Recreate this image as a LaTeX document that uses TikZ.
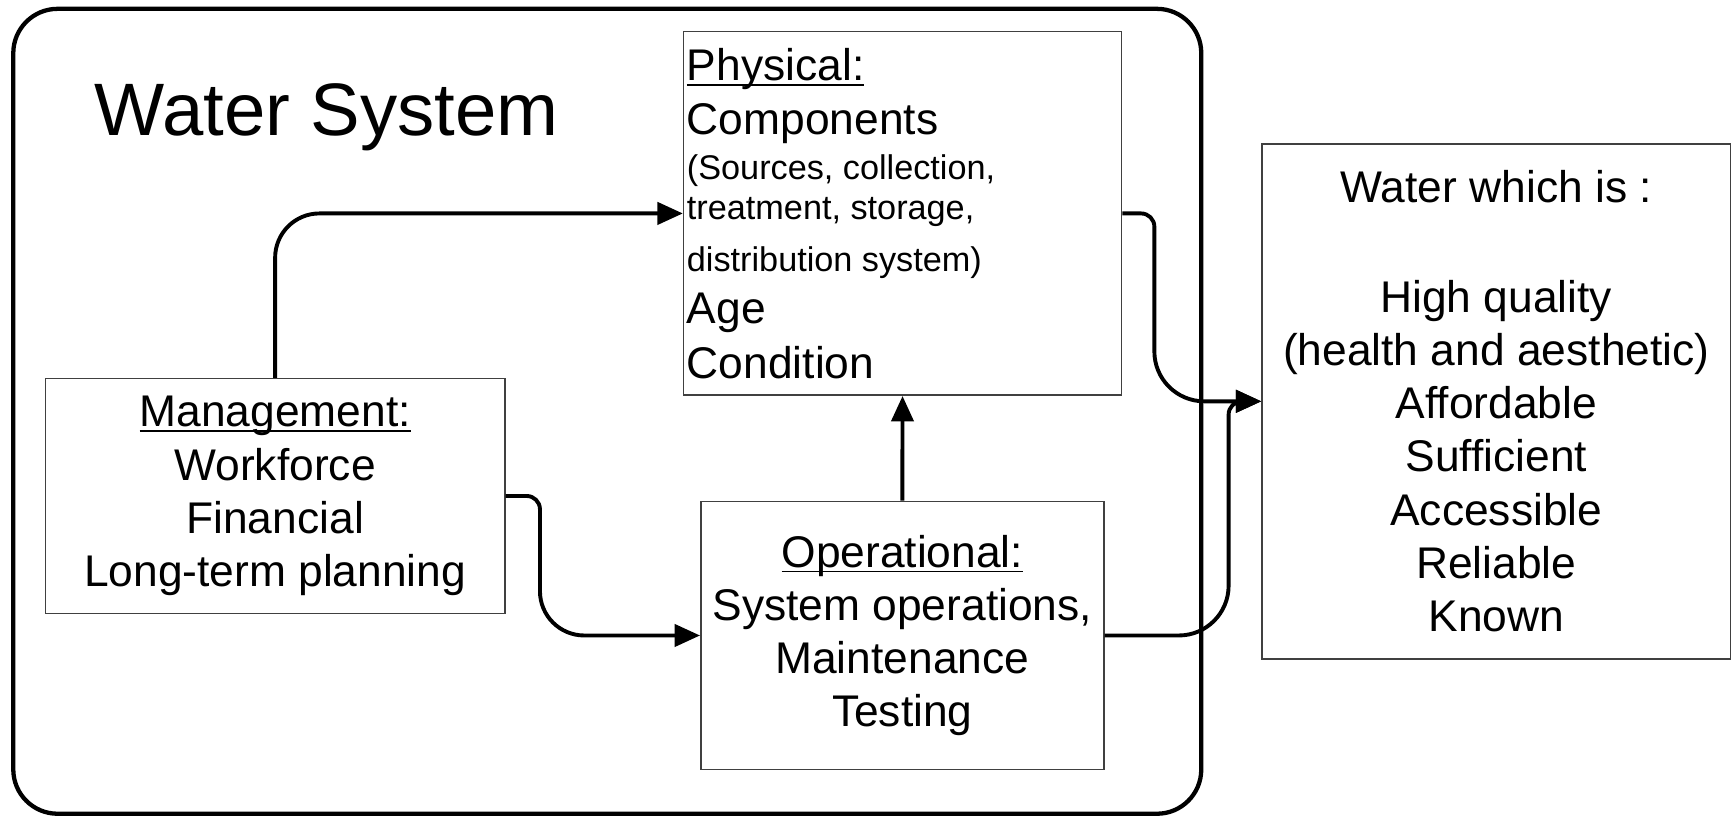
\documentclass[tikz,border=0pt]{standalone}
\usepackage{fontspec}
\setmainfont{Liberation Sans}
\usepackage{tikz}
\usetikzlibrary{arrows.meta, positioning}
\newcommand{\hdr}[1]{\setbox0\hbox{#1}\rlap{\rule[-1.35pt]{\wd0}{0.5pt}}\box0}
\newcommand{\smalltxt}{\fontsize{8.8}{13.66}\selectfont}

\begin{document}
\begin{tikzpicture}[
			sysbox/.style={rectangle, draw, line width=1.1pt, rounded corners=4mm, minimum width=10.73cm, minimum height=7.27cm},
			part/.style={rectangle, draw=black!75, line width=0.4pt, align=center, inner sep=0pt, font=\fontsize{11.4}{13.66}\selectfont},
			arrow/.style={-{Triangle[length=2.3mm, width=2mm]}, line width=1pt}
		]
		\useasboundingbox (0,0) rectangle (15.68,7.37);
		
		% Water system container
		\node[sysbox] (system) at (5.485,3.655) {};
		\node[anchor=base west, inner sep=0pt, font=\fontsize{19.1}{22}\selectfont] (title) at (0.85,6.15) {Water System};
		
		% Parts of the system
		\node[part, minimum width=3.955cm, minimum height=3.284cm, text width=3.895cm, inner xsep=0.03cm, align=flush left] (phys) at (8.152,5.442) {\hdr{Physical:}\\[0.34pt]
			Components\\[-2.1pt]
			{\smalltxt (Sources, collection,}\\[-3.4pt]
			{\smalltxt treatment, storage,}\\[-0.4pt]
			{\smalltxt distribution system)}\\[-0.4pt]
			Age\\[0.5pt]
			Condition};
		\node[part, minimum width=4.15cm, minimum height=2.12cm] (mgmt) at (2.485,2.89) {\hdr{Management:}\\Workforce\\Financial\\Long-term planning};
		\node[part, minimum width=3.64cm, minimum height=2.42cm] (oper) at (8.15,1.63) {\hdr{Operational:}\\System operations,\\Maintenance\\Testing};
		
		% Outcome
		\node[part, minimum width=4.23cm, minimum height=4.65cm] (out) at (13.515,3.745) {Water which is :\\[14.5pt]
			High quality\\(health and aesthetic)\\Affordable\\Sufficient\\Accessible\\Reliable\\Known};
		
		% Flows
		\draw[arrow, rounded corners=4mm] (mgmt.north) |- (phys.west);
		\draw[arrow, rounded corners=1.2mm] (mgmt.east) -- ++(0.31,0) [rounded corners=4mm] |- (oper.west);
		\draw[arrow] (oper.north) -- (phys.south);
		\draw[arrow, rounded corners=1.2mm] (phys.east) -- ++(0.29,0) [rounded corners=4.5mm] |- (out.west);
		\draw[arrow, rounded corners=4.5mm] (oper.east) -- ++(1.12,0) [rounded corners=1.2mm] |- (out.west);
		\end{tikzpicture}
\end{document}
